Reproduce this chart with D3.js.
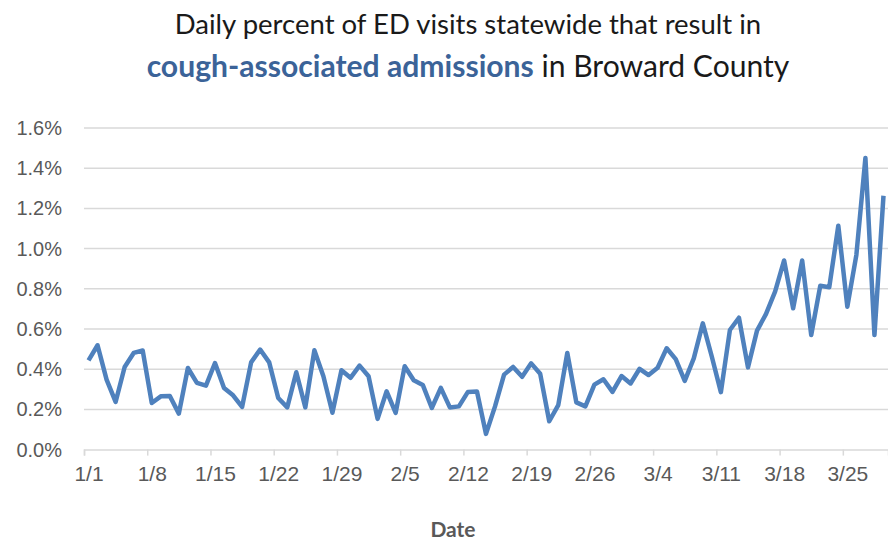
<!DOCTYPE html>
<html lang="en">
<head>
    <meta charset="UTF-8">
    <title>Cough-associated admissions</title>
    <script src="https://d3js.org/d3.v7.min.js"></script>
    <style>
        body { margin: 0; background: #fff; }
        svg { font-family: Lato, "Open Sans", sans-serif; }
        .grid line { stroke: #d9d9d9; stroke-width: 1.5px; }
        .axis text { fill: #595959; font-size: 20px; }
        .axis path, .axis line { stroke: #d9d9d9; stroke-width: 1.5px; }
        .line { fill: none; stroke: #4f81bd; stroke-width: 4.5px; stroke-linejoin: round; }
    </style>
</head>
<body>
    <svg id="chart" width="888" height="544"></svg>
    <script>
        // daily share of ED visits, in percent, 1/1 .. 3/29
        var startDate = new Date(2020, 0, 1);
        var endDate = new Date(2020, 2, 30);
        var values = [
            0.444, 0.519, 0.348, 0.237, 0.411, 0.481, 0.493, 0.232, 0.265, 0.267,
            0.179, 0.406, 0.332, 0.318, 0.431, 0.307, 0.270, 0.212, 0.434, 0.498,
            0.434, 0.257, 0.210, 0.385, 0.210, 0.494, 0.365, 0.183, 0.395, 0.357,
            0.418, 0.365, 0.153, 0.290, 0.183, 0.415, 0.345, 0.322, 0.207, 0.307,
            0.210, 0.215, 0.287, 0.289, 0.078, 0.215, 0.373, 0.411, 0.362, 0.429,
            0.377, 0.141, 0.221, 0.481, 0.235, 0.215, 0.323, 0.350, 0.287, 0.366,
            0.329, 0.402, 0.371, 0.407, 0.504, 0.450, 0.342, 0.454, 0.628, 0.462,
            0.286, 0.595, 0.656, 0.409, 0.592, 0.675, 0.786, 0.941, 0.703, 0.941,
            0.570, 0.815, 0.808, 1.114, 0.711, 0.969, 1.451, 0.570, 1.263
        ];
        var yTicks = [0, 0.2, 0.4, 0.6, 0.8, 1.0, 1.2, 1.4, 1.6];
        var xTickLabels = ["1/1", "1/8", "1/15", "1/22", "1/29", "2/5", "2/12",
                           "2/19", "2/26", "3/4", "3/11", "3/18", "3/25"];

        var dates = d3.timeDay.range(startDate, endDate);
        var data = dates.map(function(d, i) { return {date: d, value: values[i]}; });
        var xTickDates = d3.timeDay.every(7).range(startDate, endDate).filter(function(d, i) { return i < xTickLabels.length; });
        xTickDates = d3.timeDay.range(startDate, endDate, 7);

        var margin = {top: 128, right: 0, bottom: 94, left: 84},
            W = 888, H = 544;

        var x = d3.scaleTime().domain([startDate, endDate]).range([margin.left, W - margin.right]);
        var halfDay = (x(d3.timeDay.offset(startDate, 1)) - x(startDate)) / 2;
        var y = d3.scaleLinear().domain([0, 1.6]).range([H - margin.bottom - 0.4, margin.top]);

        var svg = d3.select("#chart");

        // gridlines
        svg.append("g")
            .attr("class", "grid")
            .selectAll("line")
            .data(yTicks.slice(1))
            .enter().append("line")
            .attr("x1", margin.left)
            .attr("x2", W - margin.right)
            .attr("y1", function(d) { return y(d); })
            .attr("y2", function(d) { return y(d); });

        // y axis
        svg.append("g")
            .attr("class", "axis y-axis")
            .attr("transform", "translate(" + margin.left + ",0)")
            .call(d3.axisLeft(y).tickValues(yTicks).tickSize(0).tickPadding(22)
                .tickFormat(function(d) { return d3.format(".1f")(d) + "%"; }))
            .call(function(g) { g.select(".domain").remove(); });

        // x axis: ticks at category boundaries, labels centred on the day
        var xAxis = svg.append("g")
            .attr("class", "axis x-axis")
            .attr("transform", "translate(0," + y(0) + ")")
            .call(d3.axisBottom(x).tickValues(xTickDates).tickSizeOuter(0).tickSize(6).tickPadding(10)
                .tickFormat(function(d, i) { return xTickLabels[i]; }));
        xAxis.selectAll("text").attr("dx", halfDay).style("font-size", "21px");

        svg.append("text")
            .attr("x", 453)
            .attr("y", 537)
            .attr("text-anchor", "middle")
            .style("font-size", "21px")
            .style("font-weight", "bold")
            .style("fill", "#595959")
            .text("Date");

        // line
        var line = d3.line()
            .x(function(d) { return x(d.date) + halfDay; })
            .y(function(d) { return y(d.value); });

        svg.append("path")
            .datum(data)
            .attr("class", "line")
            .attr("d", line);

        // title
        function fit(sel, target) {
            var fs = parseFloat(sel.style("font-size"));
            var w = sel.node().getComputedTextLength();
            sel.style("font-size", (fs * target / w) + "px");
        }

        var t1 = svg.append("text")
            .attr("x", 468)
            .attr("y", 34)
            .attr("text-anchor", "middle")
            .style("font-size", "24px")
            .style("fill", "#1a1a1a")
            .text("Daily percent of ED visits statewide that result in");
        fit(t1, 587);

        var t2 = svg.append("text")
            .attr("x", 468)
            .attr("y", 77)
            .attr("text-anchor", "middle")
            .style("font-size", "26px")
            .style("fill", "#1a1a1a");
        t2.append("tspan")
            .style("font-weight", "bold")
            .style("fill", "#3b6398")
            .text("cough-associated admissions");
        t2.append("tspan")
            .text(" in Broward County");
        fit(t2, 643);
    </script>
</body>
</html>
